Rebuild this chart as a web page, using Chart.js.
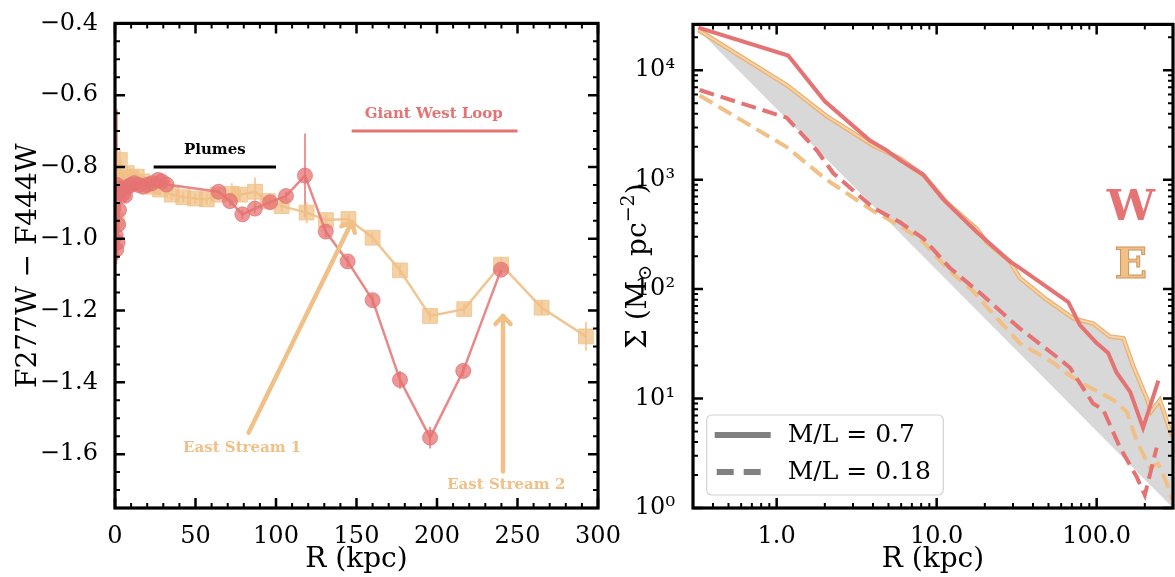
<!DOCTYPE html>
<html><head><meta charset="utf-8">
<script src="https://cdn.jsdelivr.net/npm/chart.js@4.4.1/dist/chart.umd.min.js"></script>
<style>
html,body{margin:0;padding:0;background:#fff;}
#wrap{position:relative;width:1175px;height:577px;overflow:hidden;background:#fff;}
canvas{position:absolute;top:0;}
#c1{left:0;} #c2{left:620px;}
</style></head><body>
<div id="wrap"><canvas id="c1" width="650" height="577"></canvas><canvas id="c2" width="555" height="577"></canvas></div>
<script>
// ---------- Left panel: colour profile (F277W - F444W) ----------
const wR   = [0.4, 0.8, 1.2, 1.6, 2.0, 2.5, 3.0, 4.0, 5.0, 6.2, 8, 10, 12, 14.5, 17.4, 20, 23, 26.7, 29, 32, 64.3, 71.4, 79.1, 86.9, 96.3, 106.2, 118, 130.9, 144.5, 160, 177, 195.7, 216.3, 239.8];
const wC   = [-0.99, -1.03, -0.85, -1.01, -0.96, -0.92, -0.87, -0.86, -0.875, -0.88, -0.855, -0.85, -0.845, -0.85, -0.855, -0.85, -0.845, -0.836, -0.84, -0.849, -0.869, -0.895, -0.932, -0.916, -0.898, -0.881, -0.824, -0.980, -1.063, -1.171, -1.393, -1.554, -1.368, -1.086];
const wErr = [0.05, 0.04, 0.21, 0.05, 0.04, 0.03, 0.03, 0.02, 0.02, 0.02, 0.015, 0.015, 0.01, 0.01, 0.01, 0.01, 0.01, 0.01, 0.01, 0.01, 0.012, 0.012, 0.012, 0.012, 0.012, 0.012, 0.117, 0.015, 0.015, 0.015, 0.025, 0.03, 0.015, 0.015];
const eR   = [1.0, 2.0, 3.0, 4.5, 7.3, 10, 13.5, 17, 20.7, 24, 28, 35.2, 42.4, 49.7, 57, 64, 72.5, 77.6, 87, 95, 103.5, 119, 131, 145, 160, 177, 195.7, 216.9, 239.8, 265, 292.5];
const eC   = [-0.95, -0.87, -0.78, -0.83, -0.817, -0.83, -0.827, -0.84, -0.849, -0.855, -0.863, -0.877, -0.884, -0.888, -0.890, -0.877, -0.875, -0.877, -0.869, -0.895, -0.909, -0.927, -0.948, -0.945, -0.997, -1.088, -1.215, -1.196, -1.072, -1.192, -1.272];
const eErr = [0.05, 0.04, 0.03, 0.02, 0.02, 0.015, 0.015, 0.015, 0.015, 0.015, 0.015, 0.015, 0.015, 0.015, 0.015, 0.015, 0.03, 0.015, 0.04, 0.015, 0.015, 0.03, 0.015, 0.015, 0.015, 0.015, 0.015, 0.015, 0.02, 0.02, 0.04];
const leftXTicks = [0, 50, 100, 150, 200, 250, 300];
const leftYTicks = [-1.6, -1.4, -1.2, -1.0, -0.8, -0.6, -0.4];

// ---------- Right panel: surface mass density profiles ----------
const wSolidR = [0.324, 1.18, 2.0, 3.83, 4.87, 5.9, 8.25, 11, 17.8, 28.7, 33, 66.5, 78.6, 100, 118, 133, 162, 195, 243];
const wSolidS = [24500, 13600, 5190, 2276, 1853, 1507, 1106, 661, 332, 179, 156, 76, 47, 32.1, 26.1, 17.3, 11.5, 5.4, 14.6];
const wDashR  = [0.33, 1.155, 1.78, 2.26, 4.0, 5.9, 8.25, 12.1, 18.7, 33, 59, 68, 95, 110, 140, 178, 200, 237];
const wDashS  = [6590, 3680, 1853, 1143, 556, 408, 290, 156, 92, 43.8, 22.8, 19.2, 9.0, 7.9, 3.56, 1.92, 1.31, 3.56];
const eSolidR = [0.324, 1.155, 2.05, 4.0, 5.9, 8.25, 11.6, 17.8, 20.5, 28.7, 33, 48.7, 71.4, 95, 121, 147, 169, 206, 219, 248, 296];
const eSolidS = [23300, 7310, 3810, 2053, 1560, 1106, 617, 355, 270, 179, 127, 80, 54, 48.5, 36.9, 35.6, 19.9, 10, 7.6, 9.7, 4.5];
const eDashR  = [0.33, 1.155, 2.05, 4.0, 5.9, 8.25, 12.1, 16.9, 21.5, 33, 53.5, 68, 83, 127, 154, 178, 214, 243, 275, 296];
const eDashS  = [5880, 1983, 998, 519, 380, 270, 146, 96, 63.8, 32.1, 21.3, 16.2, 13.6, 9.7, 7.6, 4.1, 2.36, 2.53, 1.67, 1.19];
const bandR   = [0.324, 300];
const bandS   = [23300, 1.0];
const rightXTicks = [1, 10, 100];
const rightYTicks = [1, 10, 100, 1000, 10000];
const legendLabels = ['M/L = 0.7', 'M/L = 0.18'];

// ---------- styles ----------
const SERIF = '"DejaVu Serif", serif';
const RED = 'rgb(229,115,115)';
const RED_A = 'rgba(229,115,115,0.75)';
const ORA = 'rgb(240,192,135)';
const ORA_A = 'rgba(240,192,135,0.75)';
const ORA_EDGE = 'rgb(234,178,118)';
const ORA_CORE = 'rgb(246,210,165)';
const GRAY = 'rgb(216,216,216)';
const TICK_FONT = {family: SERIF, size: 24};
const TITLE_FONT = {family: SERIF, size: 28};

const pts = (xs, ys) => xs.map((x, i) => ({x: x, y: ys[i]}));

function frameTicks(xMaj, xMin, yMaj, yMin, majLen, minLen) {
  return {
    id: 'frameTicks',
    afterDatasetsDraw(chart) {
      const {ctx, chartArea: a, scales} = chart;
      const xs = scales.x, ys = scales.y;
      ctx.save();
      ctx.strokeStyle = '#000';
      ctx.lineCap = 'butt';
      const tx = (vals, len, lw) => {
        ctx.lineWidth = lw;
        ctx.beginPath();
        vals.forEach(v => {
          const p = xs.getPixelForValue(v);
          ctx.moveTo(p, a.bottom); ctx.lineTo(p, a.bottom - len);
          ctx.moveTo(p, a.top); ctx.lineTo(p, a.top + len);
        });
        ctx.stroke();
      };
      const ty = (vals, len, lw) => {
        ctx.lineWidth = lw;
        ctx.beginPath();
        vals.forEach(v => {
          const p = ys.getPixelForValue(v);
          ctx.moveTo(a.left, p); ctx.lineTo(a.left + len, p);
          ctx.moveTo(a.right, p); ctx.lineTo(a.right - len, p);
        });
        ctx.stroke();
      };
      tx(xMaj, majLen, 2.5); tx(xMin, minLen, 2);
      ty(yMaj, majLen, 2.5); ty(yMin, minLen, 2);
      ctx.lineWidth = 3.2;
      ctx.strokeRect(a.left, a.top, a.right - a.left, a.bottom - a.top);
      ctx.restore();
    }
  };
}

// ---------- left chart ----------
const errorBars = {
  id: 'errorBars',
  beforeDatasetsDraw(chart) {
    const {ctx, scales: {x, y}} = chart;
    ctx.save();
    chart.data.datasets.forEach(ds => {
      if (!ds.errs) return;
      ctx.strokeStyle = ds.errColor;
      ctx.lineWidth = 2;
      ctx.beginPath();
      ds.data.forEach((p, i) => {
        const px = x.getPixelForValue(p.x);
        ctx.moveTo(px, y.getPixelForValue(p.y - ds.errs[i]));
        ctx.lineTo(px, y.getPixelForValue(p.y + ds.errs[i]));
      });
      ctx.stroke();
    });
    ctx.restore();
  }
};

const leftNotes = {
  id: 'leftNotes',
  afterDatasetsDraw(chart) {
    const {ctx, scales: {x, y}} = chart;
    const X = v => x.getPixelForValue(v), Y = v => y.getPixelForValue(v);
    ctx.save();
    ctx.lineWidth = 3;
    ctx.strokeStyle = '#000';
    ctx.beginPath(); ctx.moveTo(X(24), Y(-0.8)); ctx.lineTo(X(100), Y(-0.8)); ctx.stroke();
    ctx.strokeStyle = RED;
    ctx.beginPath(); ctx.moveTo(X(147), Y(-0.7)); ctx.lineTo(X(250), Y(-0.7)); ctx.stroke();
    const arrow = (x0, y0, x1, y1) => {
      const ax = X(x0), ay = Y(y0), bx = X(x1), by = Y(y1);
      const ang = Math.atan2(by - ay, bx - ax);
      ctx.strokeStyle = ORA; ctx.lineWidth = 4.5; ctx.lineCap = 'round'; ctx.lineJoin = 'round';
      ctx.beginPath(); ctx.moveTo(ax, ay); ctx.lineTo(bx, by); ctx.stroke();
      const L = 11, s = 0.75;
      ctx.beginPath();
      ctx.moveTo(bx - L * Math.cos(ang - s), by - L * Math.sin(ang - s));
      ctx.lineTo(bx, by);
      ctx.lineTo(bx - L * Math.cos(ang + s), by - L * Math.sin(ang + s));
      ctx.stroke();
    };
    arrow(83, -1.54, 147, -0.954);
    arrow(241, -1.648, 241, -1.215);
    ctx.font = 'bold 15px ' + SERIF;
    ctx.textAlign = 'center'; ctx.textBaseline = 'middle';
    ctx.fillStyle = '#000'; ctx.fillText('Plumes', X(62), Y(-0.753));
    ctx.fillStyle = RED; ctx.fillText('Giant West Loop', X(198), Y(-0.652));
    ctx.fillStyle = ORA; ctx.fillText('East Stream 1', X(79), Y(-1.583));
    ctx.fillText('East Stream 2', X(243), Y(-1.685));
    ctx.restore();
  }
};

const lxMin = []; for (let v = 0; v <= 300; v += 10) if (v % 50) lxMin.push(v);
const lyMin = []; for (let k = -35; k <= -8; k++) if (k % 4) lyMin.push(k * 0.05);

new Chart(document.getElementById('c1'), {
  type: 'scatter',
  data: {datasets: [
    {label: 'W', data: pts(wR, wC), errs: wErr, errColor: RED_A, showLine: true,
     borderColor: 'rgba(229,115,115,0.85)', borderWidth: 2.5, pointStyle: 'circle', pointRadius: 7.5,
     pointBackgroundColor: RED_A, pointBorderColor: RED_A, pointBorderWidth: 1},
    {label: 'E', data: pts(eR, eC), errs: eErr, errColor: ORA_A, showLine: true,
     borderColor: 'rgba(240,192,135,0.9)', borderWidth: 2.5, pointStyle: 'rect', pointRadius: 10.5,
     pointBackgroundColor: ORA_A, pointBorderColor: ORA_A, pointBorderWidth: 1}
  ]},
  options: {
    responsive: false, animation: false, events: [],
    layout: {padding: {left: 0, right: 52, top: 16, bottom: 0}},
    plugins: {legend: {display: false}, tooltip: {enabled: false}},
    scales: {
      x: {type: 'linear', min: 0, max: 300,
          afterBuildTicks: s => { s.ticks = leftXTicks.map(v => ({value: v})); },
          afterFit: s => { s.height = 69; },
          grid: {display: false}, border: {display: false},
          ticks: {color: '#000', font: TICK_FONT, padding: 6, maxRotation: 0, autoSkip: false},
          title: {display: true, text: 'R (kpc)', color: '#000', font: TITLE_FONT, padding: {top: 0, bottom: 0}}},
      y: {type: 'linear', min: -1.75, max: -0.4,
          afterBuildTicks: s => { s.ticks = leftYTicks.map(v => ({value: v})); },
          afterFit: s => { s.width = 115; },
          grid: {display: false}, border: {display: false},
          ticks: {color: '#000', font: TICK_FONT, padding: 9, autoSkip: false,
                  callback: v => (v < 0 ? '\u2212' : '') + Math.abs(v).toFixed(1)},
          title: {display: true, text: 'F277W \u2212 F444W', color: '#000', font: TITLE_FONT, padding: {top: 12, bottom: 0}}}
    }
  },
  plugins: [errorBars, frameTicks(leftXTicks, lxMin, leftYTicks, lyMin, 10, 5), leftNotes]
});

// ---------- right chart ----------
const rxMin = [], ryMin = [];
[0.1, 1, 10, 100].forEach(d => { for (let m = 2; m <= 9; m++) { const v = m * d; if (v >= 0.3 - 1e-9 && v <= 300 + 1e-9) rxMin.push(v); } });
[1, 10, 100, 1000, 10000].forEach(d => { for (let m = 2; m <= 9; m++) { const v = m * d; if (v <= 26000) ryMin.push(v); } });
const SUP = ['\u2070', '\u00b9', '\u00b2', '\u00b3', '\u2074'];

const rightNotes = {
  id: 'rightNotes',
  afterDraw(chart) {
    const {ctx, chartArea: a} = chart;
    ctx.save();
    // legend box
    const bx = 706.7 - 620, by = 415, bw = 236.6, bh = 80;
    ctx.fillStyle = 'rgba(255,255,255,0.85)';
    ctx.strokeStyle = 'rgb(210,210,210)';
    ctx.lineWidth = 1.2;
    ctx.beginPath(); ctx.roundRect(bx, by, bw, bh, 5); ctx.fill(); ctx.stroke();
    ctx.strokeStyle = 'rgb(128,128,128)';
    ctx.lineWidth = 6;
    ctx.beginPath(); ctx.moveTo(bx + 8, by + 20); ctx.lineTo(bx + 64, by + 20); ctx.stroke();
    ctx.setLineDash([17, 10]);
    ctx.beginPath(); ctx.moveTo(bx + 10, by + 57); ctx.lineTo(bx + 62, by + 57); ctx.stroke();
    ctx.setLineDash([]);
    ctx.fillStyle = '#000';
    ctx.font = '25px ' + SERIF;
    ctx.textAlign = 'left'; ctx.textBaseline = 'middle';
    ctx.fillText(legendLabels[0], bx + 81, by + 20);
    ctx.fillText(legendLabels[1], bx + 81, by + 57);
    // W / E labels
    ctx.font = 'bold 43px ' + SERIF;
    ctx.textAlign = 'center'; ctx.textBaseline = 'alphabetic';
    ctx.fillStyle = RED; ctx.fillText('W', 1131 - 620, 220);
    ctx.fillStyle = ORA; ctx.fillText('E', 1131 - 620, 278);
    ctx.lineWidth = 1; ctx.strokeStyle = 'rgb(205,150,95)'; ctx.strokeText('E', 1131 - 620, 278);
    // y-axis title with sub/superscript
    ctx.translate(16, (a.top + a.bottom) / 2);
    ctx.rotate(-Math.PI / 2);
    const big = '28px ' + SERIF, small = '19px ' + SERIF;
    const parts = [['\u03a3 (M', big, 0], ['\u2299', small, 5], [' pc', big, 0], ['\u22122', small, -12], [')', big, 0]];
    let tot = 0;
    parts.forEach(p => { ctx.font = p[1]; tot += ctx.measureText(p[0]).width; });
    let xx = -tot / 2;
    ctx.fillStyle = '#000'; ctx.textAlign = 'left'; ctx.textBaseline = 'alphabetic';
    parts.forEach(p => { ctx.font = p[1]; ctx.fillText(p[0], xx, 10 + p[2]); xx += ctx.measureText(p[0]).width; });
    ctx.restore();
  }
};

new Chart(document.getElementById('c2'), {
  type: 'line',
  data: {datasets: [
    {label: 'W M/L=0.7', data: pts(wSolidR, wSolidS), borderColor: RED, borderWidth: 4, pointRadius: 0, fill: false},
    {label: 'W M/L=0.18', data: pts(wDashR, wDashS), borderColor: RED, borderWidth: 4, borderDash: [15, 7], pointRadius: 0, fill: false},
    {label: 'E M/L=0.7 core', data: pts(eSolidR, eSolidS), borderColor: ORA_CORE, borderWidth: 2, pointRadius: 0, fill: false},
    {label: 'E M/L=0.7', data: pts(eSolidR, eSolidS), borderColor: ORA_EDGE, borderWidth: 4.5, pointRadius: 0,
     fill: {target: 5, above: GRAY, below: GRAY}},
    {label: 'E M/L=0.18', data: pts(eDashR, eDashS), borderColor: ORA, borderWidth: 4, borderDash: [15, 7], pointRadius: 0, fill: false},
    {label: 'band', data: pts(bandR, bandS), borderColor: 'rgba(0,0,0,0)', borderWidth: 0, pointRadius: 0, fill: false}
  ]},
  options: {
    responsive: false, animation: false, events: [],
    layout: {padding: {left: 0, right: 2, top: 15, bottom: 0}},
    plugins: {legend: {display: false}, tooltip: {enabled: false}, filler: {drawTime: 'beforeDatasetsDraw'}},
    scales: {
      x: {type: 'logarithmic', min: 0.3, max: 300,
          afterBuildTicks: s => { s.ticks = rightXTicks.map(v => ({value: v})); },
          afterFit: s => { s.height = 69; },
          grid: {display: false}, border: {display: false},
          ticks: {color: '#000', font: TICK_FONT, padding: 6, maxRotation: 0, autoSkip: false,
                  callback: v => Number(v).toFixed(1)},
          title: {display: true, text: 'R (kpc)', color: '#000', font: TITLE_FONT, padding: {top: 0, bottom: 0}}},
      y: {type: 'logarithmic', min: 1, max: 26200,
          afterBuildTicks: s => { s.ticks = rightYTicks.map(v => ({value: v})); },
          afterFit: s => { s.width = 73; },
          grid: {display: false}, border: {display: false},
          ticks: {color: '#000', font: TICK_FONT, padding: 10, autoSkip: false,
                  callback: v => '10' + SUP[Math.round(Math.log10(v))]}}
    }
  },
  plugins: [frameTicks(rightXTicks, rxMin, rightYTicks, ryMin, 10, 5), rightNotes]
});
</script>
</body></html>
